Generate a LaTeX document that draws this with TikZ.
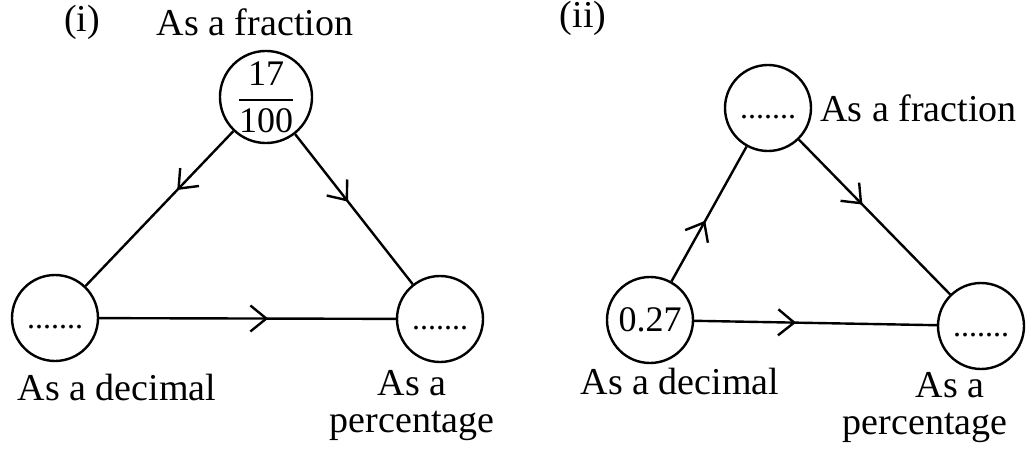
\documentclass[tikz,border=0pt]{standalone}
\usepackage{amsmath}
\usepackage{fontspec}
\setmainfont{Liberation Serif}
\usetikzlibrary{positioning,arrows.meta,decorations.markings}

\newcommand{\blankdots}{{\fontsize{16}{18}\selectfont\vphantom{0}.......}}

\begin{document}
\begin{tikzpicture}[
  x=0.5pt, y=-0.5pt,
  >={Straight Barb[length=8pt,width=13pt]},
  numcirc/.style={draw, circle, line width=1.2pt, minimum size=43pt, inner sep=0pt, font=\fontsize{18}{20}\selectfont},
  caption/.style={font=\fontsize{19}{18.5}\selectfont, align=center, inner sep=1pt},
  link/.style={line width=1.2pt, postaction={decorate}, decoration={markings, mark=at position #1 with {\arrow[line width=1.2pt]{>}}}},
  link/.default=0.5
]
  \useasboundingbox (0,0) rectangle (1028,449);
  % (i)
  \node[caption] (tagA) at (82,22) {(i)};
  \node[caption] (fracA) at (255,22) {As a fraction};
  \node[numcirc] (topA) at (266,97) {$\dfrac{\text{17}}{\text{100}}$};
  \node[numcirc] (decA) at (55,318) {\blankdots};
  \node[numcirc] (pctA) at (440,319) {\blankdots};
  \node[caption] (decnameA) at (117,387) {As a decimal};
  \node[caption] (pctnameA) at (412,406) {As a\\percentage};
  \draw[link=0.38] (topA) -- (decA);
  \draw[link=0.45] (topA) -- (pctA);
  \draw[link=0.57] (decA) -- (pctA);
  % (ii)
  \node[caption] (tagB) at (583,18) {(ii)};
  \node[numcirc] (topB) at (768,108) {\blankdots};
  \node[caption, anchor=west] (fracB) at (818,108) {As a fraction};
  \node[numcirc] (decB) at (650,320) {0.27};
  \node[numcirc] (pctB) at (981,326) {\blankdots};
  \node[caption] (decnameB) at (680,382) {As a decimal};
  \node[caption] (pctnameB) at (950,385) {As a};
  \node[caption] (pctwordB) at (925,428) {percentage};
  \draw[link=0.45] (decB) -- (topB);
  \draw[link=0.42] (topB) -- (pctB);
  \draw[link=0.42] (decB) -- (pctB);
\end{tikzpicture}
\end{document}
